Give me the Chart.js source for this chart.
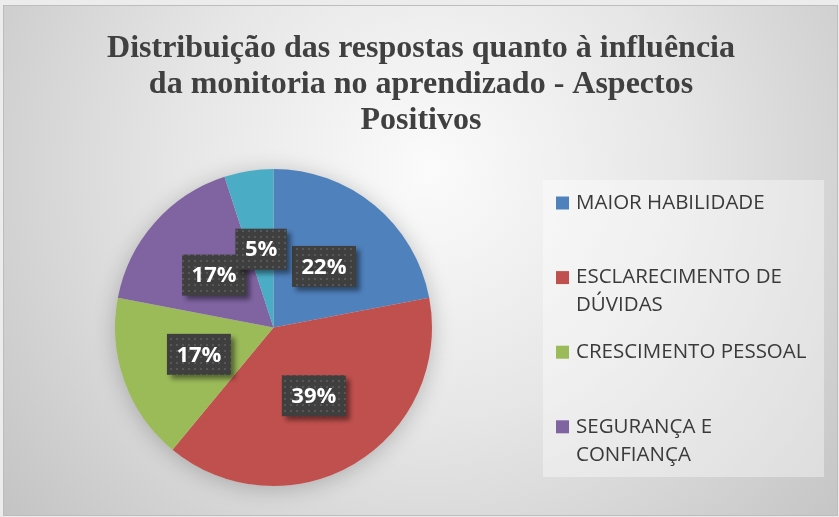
<!DOCTYPE html>
<html>
<head>
<meta charset="utf-8">
<script src="https://cdn.jsdelivr.net/npm/chart.js@4.4.1/dist/chart.umd.min.js"></script>
<style>
    body { margin: 0; background: #ececec; }
    #pieChart { display: block; }
</style>
</head>
<body>
<canvas id="pieChart" width="839" height="517"></canvas>
<script>
var titleLines = ['Distribuição das respostas quanto à influência', 'da monitoria no aprendizado - Aspectos', 'Positivos'];
var categories = ['MAIOR HABILIDADE', 'ESCLARECIMENTO DE DÚVIDAS', 'CRESCIMENTO PESSOAL', 'SEGURANÇA E CONFIANÇA', ''];
var percents = [22, 39, 17, 17, 5];
var sliceColors = ['#4F81BD', '#C0504D', '#9BBB59', '#8064A2', '#4BACC6'];

var ctx = document.getElementById('pieChart').getContext('2d');

// pequeno padrão pontilhado para as caixas dos rótulos
function makeDots() {
    var c = document.createElement('canvas');
    c.width = 6;
    c.height = 6;
    var g = c.getContext('2d');
    g.fillStyle = '#3f3f3f';
    g.fillRect(0, 0, 6, 6);
    g.fillStyle = '#575757';
    g.fillRect(2, 2, 2, 2);
    return ctx.createPattern(c, 'repeat');
}
var dots = makeDots();

var backgroundPlugin = {
    id: 'background',
    beforeDraw: function(chart) {
        var c = chart.ctx;
        c.save();
        c.fillStyle = '#ececec';
        c.fillRect(0, 0, chart.width, chart.height);
        var grad = c.createRadialGradient(430, 170, 0, 430, 170, 560);
        grad.addColorStop(0, '#fbfbfb');
        grad.addColorStop(0.45, '#e6e6e6');
        grad.addColorStop(1, '#c2c2c2');
        c.fillStyle = grad;
        c.fillRect(3.5, 5.5, chart.width - 5, chart.height - 7);
        c.strokeStyle = '#bdbdbd';
        c.lineWidth = 1;
        c.strokeRect(3.5, 5.5, chart.width - 5, chart.height - 7);
        c.restore();
    },
    beforeDatasetsDraw: function(chart) {
        // sombra suave atrás da pizza
        var arc = chart.getDatasetMeta(0).data[0];
        var c = chart.ctx;
        c.save();
        c.shadowColor = 'rgba(0,0,0,0.22)';
        c.shadowBlur = 22;
        c.shadowOffsetY = 3;
        c.fillStyle = '#dcdcdc';
        c.beginPath();
        c.arc(arc.x, arc.y, arc.outerRadius, 0, Math.PI * 2);
        c.fill();
        c.restore();
    }
};

var titlePlugin = {
    id: 'wordTitle',
    afterDraw: function(chart) {
        var c = chart.ctx;
        c.save();
        c.font = 'bold 32px "Liberation Serif", "Times New Roman", serif';
        c.fillStyle = '#404040';
        c.textAlign = 'center';
        c.textBaseline = 'alphabetic';
        for (var i = 0; i < titleLines.length; i++) {
            c.fillText(titleLines[i], 421, 57 + i * 36);
        }
        c.restore();
    }
};

var labelPlugin = {
    id: 'pctLabels',
    afterDatasetsDraw: function(chart) {
        var c = chart.ctx;
        var meta = chart.getDatasetMeta(0);
        c.save();
        c.font = 'bold 22px "Open Sans", sans-serif';
        c.textAlign = 'center';
        c.textBaseline = 'middle';
        meta.data.forEach(function(arc, i) {
            var p = arc.tooltipPosition();
            var txt = percents[i] + '%';
            var w = c.measureText(txt).width + 19;
            var h = 41;
            c.save();
            c.shadowColor = 'rgba(0,0,0,0.45)';
            c.shadowBlur = 5;
            c.shadowOffsetX = 4;
            c.shadowOffsetY = 4;
            c.fillStyle = dots;
            c.fillRect(p.x - w / 2, p.y - h / 2, w, h);
            c.restore();
            c.fillStyle = '#ffffff';
            c.fillText(txt, p.x, p.y + 1);
        });
        c.restore();
    }
};

var legendPlugin = {
    id: 'sideLegend',
    afterDraw: function(chart) {
        var c = chart.ctx;
        var box = { x: 543, y: 180, w: 281, h: 297 };
        c.save();
        c.fillStyle = 'rgba(255,255,255,0.38)';
        c.fillRect(box.x, box.y, box.w, box.h);
        c.font = '20.5px "Open Sans", sans-serif';
        c.textBaseline = 'middle';
        c.textAlign = 'left';
        var maxW = 240;
        var n = 0;
        categories.forEach(function(label, i) {
            if (!label) return;
            var y = 203 + n * 74.6;
            c.fillStyle = sliceColors[i];
            c.fillRect(556, y - 6.5, 13, 13);
            // quebra de linha simples
            var words = label.split(' ');
            var lines = [];
            var cur = '';
            words.forEach(function(wd) {
                var test = cur ? cur + ' ' + wd : wd;
                if (c.measureText(test).width > maxW && cur) {
                    lines.push(cur);
                    cur = wd;
                } else {
                    cur = test;
                }
            });
            lines.push(cur);
            c.fillStyle = '#3a3a3a';
            lines.forEach(function(ln, k) {
                c.fillText(ln, 576, y + k * 28);
            });
            n++;
        });
        c.restore();
    }
};

var pieChart = new Chart(ctx, {
    type: 'pie',
    data: {
        labels: categories,
        datasets: [{
            data: percents,
            backgroundColor: sliceColors,
            borderWidth: 0
        }]
    },
    options: {
        responsive: false,
        animation: false,
        layout: {
            padding: { left: 115, right: 407, top: 169, bottom: 31 }
        },
        plugins: {
            legend: { display: false },
            title: { display: false },
            tooltip: { enabled: false }
        }
    },
    plugins: [backgroundPlugin, labelPlugin, legendPlugin, titlePlugin]
});
</script>
</body>
</html>
